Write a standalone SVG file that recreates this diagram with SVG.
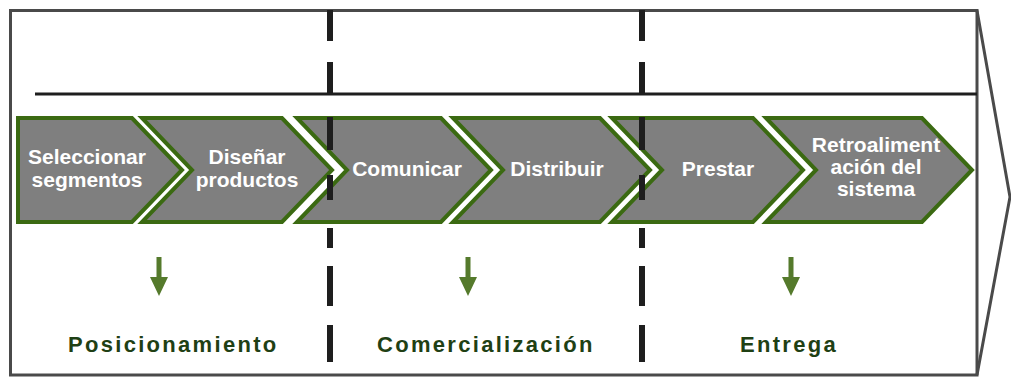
<svg xmlns="http://www.w3.org/2000/svg" width="1011" height="379" viewBox="0 0 1011 379">
<style>
.frame{fill:none;stroke:#4a4a4a;stroke-width:3}
.rule{fill:none;stroke:#1e1e1e;stroke-width:3}
.dash{fill:none;stroke:#1e1e1e;stroke-width:6}
.chev{fill:#7f7f7f;stroke:#3b6a12;stroke-width:4;stroke-linejoin:miter}
.lbl{font-family:"Liberation Sans",Arial,sans-serif;font-weight:bold;font-size:21px;fill:#ffffff;text-anchor:middle}
.phase{font-family:"Liberation Sans",Arial,sans-serif;font-weight:bold;font-size:22px;fill:#1f4014;letter-spacing:2.3px}
.arr{fill:#557a2c}
</style>
<rect width="1011" height="379" fill="#ffffff"/>
<g id="frame">
<rect class="frame" x="10.5" y="10.5" width="966.5" height="364.5"/>
<path class="frame" d="M977,10.5 L1010,197 L977,375"/>
<line class="rule" x1="35" y1="94" x2="977" y2="94"/>
</g>
<g id="chevron-1">
<polygon class="chev" points="18,118 132,118 182,170 132,222 18,222"/>
<text class="lbl" x="87" y="164">Seleccionar</text>
<text class="lbl" x="87" y="187">segmentos</text>
</g>
<g id="chevron-2">
<polygon class="chev" points="142,118 282,118 332,170 282,222 142,222 192,170"/>
<text class="lbl" x="247" y="164">Diseñar</text>
<text class="lbl" x="247" y="187">productos</text>
</g>
<g id="chevron-3">
<polygon class="chev" points="297,118 441,118 491,170 441,222 297,222 347,170"/>
<text class="lbl" x="407" y="176">Comunicar</text>
</g>
<g id="chevron-4">
<polygon class="chev" points="453,118 600,118 650,170 600,222 453,222 503,170"/>
<text class="lbl" x="557" y="176">Distribuir</text>
</g>
<g id="chevron-5">
<polygon class="chev" points="612,118 753,118 803,170 753,222 612,222 662,170"/>
<text class="lbl" x="718" y="176">Prestar</text>
</g>
<g id="chevron-6">
<polygon class="chev" points="766,118 922,118 972,170 922,222 766,222 816,170"/>
<text class="lbl" x="876" y="152">Retroaliment</text>
<text class="lbl" x="876" y="174">ación del</text>
<text class="lbl" x="876" y="196">sistema</text>
</g>
<g id="dividers">
<path class="dash" d="M330,10 V41 M330,62 V94 M330,117 V150 M330,175 V200 M330,228 V248 M330,266 V306 M330,325 V362"/>
<path class="dash" d="M642,10 V41 M642,62 V94 M642,117 V150 M642,175 V200 M642,228 V248 M642,266 V306 M642,325 V362"/>
</g>
<g id="connectors">
<path class="arr" d="M156.5,257 h5 v20 h6.5 l-9,19 l-9,-19 h6.5 z"/>
<path class="arr" d="M465.5,257 h5 v20 h6.5 l-9,19 l-9,-19 h6.5 z"/>
<path class="arr" d="M788.5,257 h5 v20 h6.5 l-9,19 l-9,-19 h6.5 z"/>
</g>
<g id="phase-posicionamiento">
<text class="phase" x="68" y="352">Posicionamiento</text>
</g>
<g id="phase-comercializacion">
<text class="phase" x="377" y="352">Comercialización</text>
</g>
<g id="phase-entrega">
<text class="phase" x="740" y="352">Entrega</text>
</g>
</svg>
